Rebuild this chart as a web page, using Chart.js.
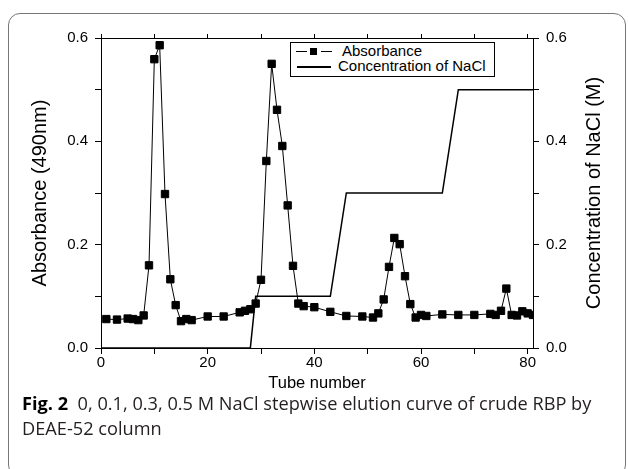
<!DOCTYPE html>
<html>
<head>
<meta charset="utf-8">
<script src="https://cdn.jsdelivr.net/npm/chart.js@4.4.1/dist/chart.umd.min.js"></script>
<style>
  html, body { margin: 0; padding: 0; background: #fff; }
  #wrap { position: relative; width: 628px; height: 469px; overflow: hidden; }
  #frame { position: absolute; left: 8px; top: 13px; width: 616px; height: 462px; border: 1px solid #777; border-radius: 12px; }
  #chart { position: absolute; left: 0; top: 0; }
  #legend { position: absolute; left: 290px; top: 42px; width: 203px; height: 33px; border: 1px solid #000; background: #fff;
            font: 15px Arial, "Liberation Sans", sans-serif; color: #000; }
  #legend .seg { position: absolute; height: 1px; background: #000; }
  #legend .sq { position: absolute; width: 7px; height: 7px; background: #000; }
  #legend .txt { position: absolute; white-space: nowrap; line-height: 16px; }
  #caption { position: absolute; left: 22px; top: 391px; font: 18.2px "Open Sans", sans-serif; color: #231f20; line-height: 25px; white-space: nowrap; }
  #caption b { color: #000; }
</style>
</head>
<body>
<div id="wrap">
  <div id="frame"></div>
  <canvas id="chart" width="628" height="469"></canvas>
  <div id="legend"></div>
  <div id="caption"><b>Fig. 2</b>&nbsp; 0, 0.1, 0.3, 0.5 M NaCl stepwise elution curve of crude RBP by<br>DEAE-52 column</div>
</div>
<script>
// absorbance at 490 nm per tube
const tubes = [1, 3, 5, 6, 7, 8, 9, 10, 11, 12, 13, 14, 15, 16, 17, 20, 23, 26, 27, 28, 29, 30, 31, 32, 33, 34, 35, 36, 37, 38,
               40, 43, 46, 49, 51, 52, 53, 54, 55, 56, 57, 58, 59, 60, 61, 64, 67, 70, 73, 74, 75, 76, 77, 78, 79, 80, 81];
const absorbance = [0.056, 0.055, 0.057, 0.056, 0.054, 0.063, 0.160, 0.559, 0.586, 0.298, 0.133, 0.083, 0.052, 0.056, 0.054,
                    0.061, 0.061, 0.069, 0.072, 0.075, 0.086, 0.132, 0.362, 0.550, 0.461, 0.391, 0.276, 0.159, 0.086, 0.081,
                    0.079, 0.070, 0.062, 0.061, 0.059, 0.067, 0.094, 0.157, 0.213, 0.201, 0.139, 0.085, 0.059, 0.064, 0.062,
                    0.065, 0.064, 0.064, 0.066, 0.064, 0.072, 0.115, 0.064, 0.063, 0.071, 0.067, 0.064];

// NaCl step gradient
const saltTubes = [0, 28, 29, 43, 46, 64, 67, 81];
const saltConc = [0, 0, 0.1, 0.1, 0.3, 0.3, 0.5, 0.5];

const xTickLabels = [0, 20, 40, 60, 80];
const yTickLabels = ['0.0', '0.2', '0.4', '0.6'];

const fam = 'Arial, "Liberation Sans", sans-serif';

const toPoints = (xs, ys) => xs.map((x, i) => ({ x: x, y: ys[i] }));

// right axis title reads bottom to top like the left one
const rightTitle = {
    id: 'rightTitle',
    afterDraw(chart) {
        const s = chart.scales.y2;
        const ctx = chart.ctx;
        ctx.save();
        ctx.translate(s.right - 34, (s.top + s.bottom) / 2);
        ctx.rotate(-Math.PI / 2);
        ctx.font = '20px ' + fam;
        ctx.fillStyle = '#000';
        ctx.textAlign = 'center';
        ctx.textBaseline = 'middle';
        ctx.fillText('Concentration of NaCl (M)', 0, 0);
        ctx.restore();
    }
};

const axisLine = { color: '#000', width: 1 };

const chart = new Chart(document.getElementById('chart'), {
    type: 'line',
    data: {
        datasets: [
            {
                label: 'Absorbance',
                data: toPoints(tubes, absorbance),
                yAxisID: 'y',
                borderColor: '#000',
                borderWidth: 1,
                pointStyle: 'rect',
                pointRadius: 5.2,
                pointBackgroundColor: '#000',
                pointBorderColor: '#000',
                pointBorderWidth: 1,
                tension: 0,
            },
            {
                label: 'Concentration of NaCl',
                data: toPoints(saltTubes, saltConc),
                yAxisID: 'y2',
                borderColor: '#000',
                borderWidth: 1.5,
                pointRadius: 0,
                tension: 0,
            },
        ],
    },
    options: {
        responsive: false,
        animation: false,
        devicePixelRatio: 1,
        layout: { padding: { left: 0, right: 0, top: 0, bottom: 69 } },
        plugins: { legend: { display: false }, tooltip: { enabled: false } },
        scales: {
            x: {
                type: 'linear', position: 'bottom', min: 0, max: 81,
                afterFit: (s) => { s.height = 52; },
                ticks: {
                    stepSize: 10, includeBounds: false, autoSkip: false, maxRotation: 0, padding: 0,
                    color: '#000', font: { size: 15, family: fam },
                    callback: (v) => xTickLabels.includes(v) ? String(v) : '',
                },
                grid: { drawOnChartArea: false, tickLength: 6, color: '#000' },
                border: axisLine,
                title: { display: true, text: 'Tube number', color: '#000', font: { size: 16.5, family: fam }, padding: { top: 0, bottom: 7 } },
            },
            x2: {
                type: 'linear', position: 'top', min: 0, max: 81,
                afterFit: (s) => { s.height = 38; },
                ticks: { stepSize: 10, includeBounds: false, autoSkip: false, maxRotation: 0, callback: () => '' },
                grid: { drawOnChartArea: false, tickLength: 4, color: '#000' },
                border: axisLine,
            },
            y: {
                type: 'linear', position: 'left', min: 0, max: 0.6,
                afterFit: (s) => { s.width = 101; },
                ticks: {
                    stepSize: 0.1, padding: 7, color: '#000', font: { size: 15, family: fam },
                    callback: (v) => yTickLabels.includes(v.toFixed(1)) ? v.toFixed(1) : '',
                },
                grid: { drawOnChartArea: false, tickLength: 6, color: '#000' },
                border: axisLine,
                title: { display: true, text: 'Absorbance (490nm)', color: '#000', font: { size: 20, family: fam }, padding: { top: 28, bottom: 0 } },
            },
            y2: {
                type: 'linear', position: 'right', min: 0, max: 0.6,
                afterFit: (s) => { s.width = 95; },
                ticks: {
                    stepSize: 0.1, padding: 7, color: '#000', font: { size: 15, family: fam },
                    callback: (v) => yTickLabels.includes(v.toFixed(1)) ? v.toFixed(1) : '',
                },
                grid: { drawOnChartArea: false, tickLength: 6, color: '#000' },
                border: axisLine,
            },
        },
    },
    plugins: [rightTitle],
});

// legend box in the top right of the plot
const legendBox = document.getElementById('legend');
chart.data.datasets.forEach((ds, i) => {
    const cy = i === 0 ? 8 : 23;
    if (ds.pointRadius > 0) {
        legendBox.insertAdjacentHTML('beforeend',
            `<div class="seg" style="left:5px;width:11px;top:${cy}px"></div>` +
            `<div class="sq" style="left:19px;top:${cy - 3}px"></div>` +
            `<div class="seg" style="left:30px;width:11px;top:${cy}px"></div>` +
            `<div class="txt" style="left:51px;top:${cy - 8}px">${ds.label}</div>`);
    } else {
        legendBox.insertAdjacentHTML('beforeend',
            `<div class="seg" style="left:6px;width:34px;top:${cy}px;height:1.5px"></div>` +
            `<div class="txt" style="left:47px;top:${cy - 8}px">${ds.label}</div>`);
    }
});
</script>
</body>
</html>
